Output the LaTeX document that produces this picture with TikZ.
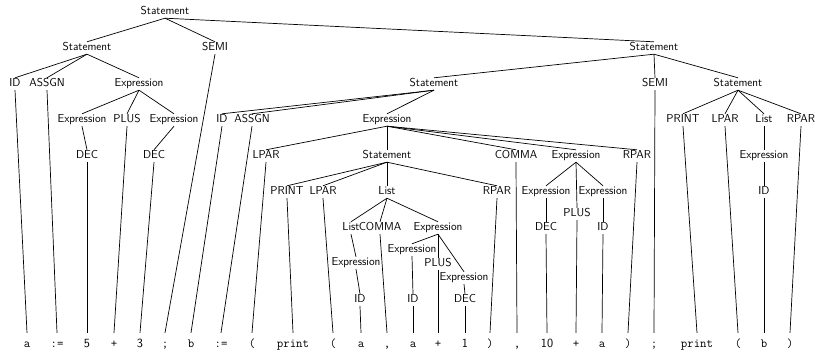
\documentclass[tikz,border=0pt]{standalone}
\usepackage{tikz}
\usetikzlibrary{positioning}

\tikzset{
  cat/.style={font=\fontsize{11.5}{13}\sffamily, inner sep=1pt, text height=8pt, text depth=2pt},
  tok/.style={font=\fontsize{12.5}{14}\ttfamily, inner sep=1pt, text height=14pt, text depth=2pt, anchor=base},
  branch/.style={draw=black, line width=0.7pt}
}

\begin{document}
\begin{tikzpicture}[x=1pt, y=-1pt]
  \useasboundingbox (0,0) rectangle (815,352);
  % categories
  \node[cat] (root) at (165,12) {Statement};
  \node[cat] (stA) at (87,48) {Statement};
  \node[cat] (semiA) at (215,48) {SEMI};
  \node[cat] (stB) at (654,48) {Statement};
  \node[cat] (idA) at (15,84) {ID};
  \node[cat] (assgnA) at (47,84) {ASSGN};
  \node[cat] (exA) at (139,84) {Expression};
  \node[cat] (exA1) at (82,120) {Expression};
  \node[cat] (plusA) at (127,120) {PLUS};
  \node[cat] (exA2) at (174,120) {Expression};
  \node[cat] (decA1) at (87,156) {DEC};
  \node[cat] (decA2) at (154,156) {DEC};
  \node[cat] (stC) at (434,84) {Statement};
  \node[cat] (semiB) at (655,84) {SEMI};
  \node[cat] (stD) at (738,84) {Statement};
  \node[cat] (idB) at (222,120) {ID};
  \node[cat] (assgnB) at (252,120) {ASSGN};
  \node[cat] (exB) at (387,120) {Expression};
  \node[cat] (lparB) at (266,156) {LPAR};
  \node[cat] (stE) at (387,156) {Statement};
  \node[cat] (commaB) at (516,156) {COMMA};
  \node[cat] (exC) at (576,156) {Expression};
  \node[cat] (rparB) at (637,156) {RPAR};
  \node[cat] (printE) at (287,192) {PRINT};
  \node[cat] (lparE) at (323,192) {LPAR};
  \node[cat] (listE) at (387,192) {List};
  \node[cat] (rparE) at (497,192) {RPAR};
  \node[cat] (listF) at (351,228) {List};
  \node[cat] (commaF) at (380,228) {COMMA};
  \node[cat] (exF) at (438,228) {Expression};
  \node[cat] (exF0) at (356,263) {Expression};
  \node[cat] (idF0) at (360,300) {ID};
  \node[cat] (exF1) at (412,250) {Expression};
  \node[cat] (plusF) at (438,264) {PLUS};
  \node[cat] (exF2) at (464,278) {Expression};
  \node[cat] (idF1) at (413,300) {ID};
  \node[cat] (decF2) at (465,300) {DEC};
  \node[cat] (exC1) at (546,192) {Expression};
  \node[cat] (plusC) at (577,214) {PLUS};
  \node[cat] (exC2) at (603,192) {Expression};
  \node[cat] (decC1) at (546,228) {DEC};
  \node[cat] (idC2) at (603,228) {ID};
  \node[cat] (printD) at (683,120) {PRINT};
  \node[cat] (lparD) at (725,120) {LPAR};
  \node[cat] (listD) at (764,120) {List};
  \node[cat] (rparD) at (801,120) {RPAR};
  \node[cat] (exD) at (764,156) {Expression};
  \node[cat] (idD) at (764,192) {ID};

  % tokens
  \foreach \x/\s [count=\i] in {27/a, 57/{:=}, 87/\textsf{5}, 114/+, 140/\textsf{3},
      165/;, 191/b, 221/{:=}, 252/(, 293/print, 333/(, 361/a, 387/{,}, 413/a,
      438/+, 465/\textsf{1}, 490/), 517/{,}, 547/\textsf{10}, 576/+, 602/a, 628/),
      654/;, 697/print, 738/(, 764/b, 790/)}
    \node[tok] (t\i) at (\x,348) {\s};

  \foreach \p/\c in {root/stA, root/semiA, root/stB, stA/idA, stA/assgnA, stA/exA,
      exA/exA1, exA/plusA, exA/exA2, exA1/decA1, exA2/decA2,
      stB/stC, stB/semiB, stB/stD, stC/idB, stC/assgnB, stC/exB,
      exB/lparB, exB/stE, exB/commaB, exB/exC, exB/rparB,
      stE/printE, stE/lparE, stE/listE, stE/rparE,
      listE/listF, listE/commaF, listE/exF, listF/exF0, exF0/idF0,
      exF/exF1, exF/plusF, exF/exF2, exF1/idF1, exF2/decF2,
      exC/exC1, exC/plusC, exC/exC2, exC1/decC1, exC2/idC2,
      stD/printD, stD/lparD, stD/listD, stD/rparD, listD/exD, exD/idD,
      idA/t1, assgnA/t2, decA1/t3, plusA/t4, decA2/t5, semiA/t6,
      idB/t7, assgnB/t8, lparB/t9, printE/t10, lparE/t11, idF0/t12,
      commaF/t13, idF1/t14, plusF/t15, decF2/t16, rparE/t17, commaB/t18,
      decC1/t19, plusC/t20, idC2/t21, rparB/t22, semiB/t23,
      printD/t24, lparD/t25, idD/t26, rparD/t27}
    \draw[branch] (\p.south) -- (\c.north);
\end{tikzpicture}
\end{document}
